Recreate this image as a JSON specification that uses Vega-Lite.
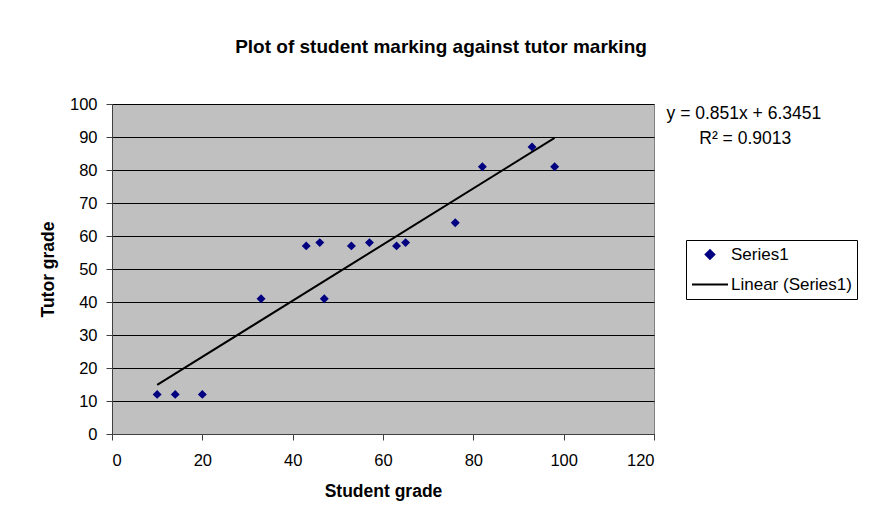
{
  "$schema": "https://vega.github.io/schema/vega-lite/v6.json",
  "width": 542,
  "height": 330,
  "autosize": {"type": "none"},
  "padding": {"left": 112, "top": 104, "right": 221, "bottom": 81},
  "background": "white",
  "title": {
    "text": "Plot of student marking against tutor marking",
    "font": "Liberation Sans",
    "fontSize": 19,
    "fontWeight": "bold",
    "color": "black",
    "anchor": "middle",
    "dx": 58,
    "offset": 39
  },
  "config": {
    "view": {"fill": "#C0C0C0", "stroke": "#808080", "strokeWidth": 1},
    "font": "Liberation Sans"
  },
  "datasets": {
    "points": [
      {"student": 10, "tutor": 12, "series": "Series1"},
      {"student": 14, "tutor": 12, "series": "Series1"},
      {"student": 20, "tutor": 12, "series": "Series1"},
      {"student": 33, "tutor": 41, "series": "Series1"},
      {"student": 43, "tutor": 57, "series": "Series1"},
      {"student": 46, "tutor": 58, "series": "Series1"},
      {"student": 47, "tutor": 41, "series": "Series1"},
      {"student": 53, "tutor": 57, "series": "Series1"},
      {"student": 57, "tutor": 58, "series": "Series1"},
      {"student": 63, "tutor": 57, "series": "Series1"},
      {"student": 65, "tutor": 58, "series": "Series1"},
      {"student": 76, "tutor": 64, "series": "Series1"},
      {"student": 82, "tutor": 81, "series": "Series1"},
      {"student": 93, "tutor": 87, "series": "Series1"},
      {"student": 98, "tutor": 81, "series": "Series1"}
    ],
    "trend": [
      {"student": 10, "tutor": 14.86, "series": "Linear (Series1)"},
      {"student": 98, "tutor": 89.74, "series": "Linear (Series1)"}
    ],
    "annot": [
      {"label": "y = 0.851x + 6.3451", "student": 139.9, "tutor": 97.0},
      {"label": "R² = 0.9013", "student": 140.2, "tutor": 89.4}
    ]
  },
  "encoding": {
    "x": {
      "field": "student", "type": "quantitative",
      "scale": {"domain": [0, 120], "nice": false, "zero": true},
      "axis": {
        "title": "Student grade",
        "values": [0, 20, 40, 60, 80, 100, 120],
        "grid": false,
        "domainColor": "#404040",
        "tickColor": "#404040",
        "tickSize": 6,
        "labelFontSize": 16.5,
        "labelColor": "black",
        "labelPadding": 12,
        "labelOverlap": false,
        "titleFontSize": 17.5,
        "titleFontWeight": "bold",
        "titleColor": "black",
        "titlePadding": 14
      }
    },
    "y": {
      "field": "tutor", "type": "quantitative",
      "scale": {"domain": [0, 100], "nice": false},
      "axis": {
        "title": "Tutor grade",
        "tickCount": 10,
        "grid": true,
        "gridColor": "black",
        "gridOpacity": 1,
        "gridWidth": 1,
        "domainColor": "#404040",
        "tickColor": "#404040",
        "tickSize": 6,
        "labelFontSize": 16.5,
        "labelColor": "black",
        "labelPadding": 9,
        "labelOverlap": false,
        "titleFontSize": 17.5,
        "titleFontWeight": "bold",
        "titleColor": "black",
        "titlePadding": 12
      }
    },
    "color": {
      "field": "series", "type": "nominal",
      "scale": {"domain": ["Series1", "Linear (Series1)"], "range": ["#000080", "black"]},
      "legend": {
        "title": null,
        "orient": "none",
        "legendX": 574,
        "legendY": 136,
        "strokeColor": "black",
        "fillColor": "white",
        "padding": 5,
        "labelFontSize": 17,
        "labelColor": "black",
        "labelLimit": 300,
        "labelOffset": 2,
        "rowPadding": 11,
        "clipHeight": 19,
        "symbolStrokeWidth": 2,
        "encode": {
          "symbols": {
            "update": {
              "shape": {"signal": "datum.value === 'Series1' ? 'diamond' : 'stroke'"},
              "size": {"signal": "datum.value === 'Series1' ? 75 : 1296"},
              "stroke": {"signal": "datum.value === 'Series1' ? 'transparent' : 'black'"},
              "strokeWidth": {"value": 2},
              "fill": {"signal": "datum.value === 'Series1' ? '#000080' : 'transparent'"},
              "opacity": {"value": 1}
            }
          }
        }
      }
    }
  },
  "layer": [
    {
      "data": {"name": "trend"},
      "mark": {"type": "line", "strokeWidth": 2}
    },
    {
      "data": {"name": "points"},
      "mark": {"type": "point", "shape": "diamond", "filled": true, "opacity": 1, "size": 80}
    },
    {
      "data": {"name": "annot"},
      "mark": {"type": "text", "font": "Liberation Sans", "fontSize": 17.5, "align": "center", "baseline": "middle", "clip": false},
      "encoding": {
        "text": {"field": "label"},
        "color": {"value": "black"}
      }
    }
  ]
}
